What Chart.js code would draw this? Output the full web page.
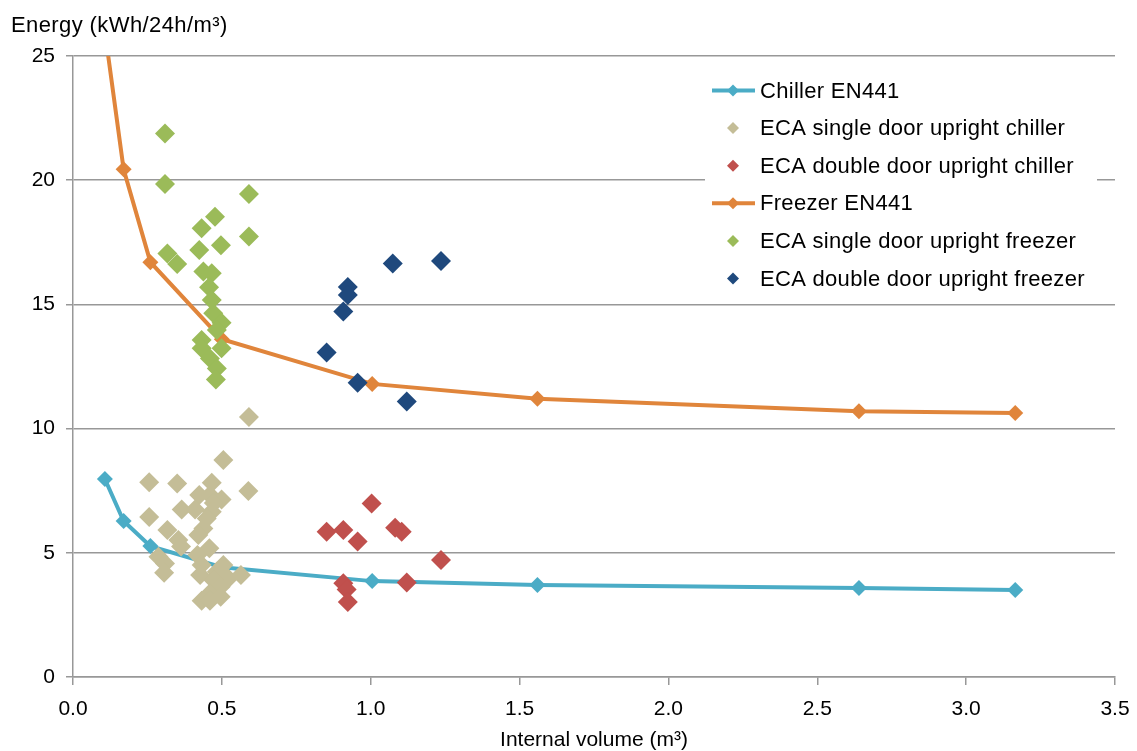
<!DOCTYPE html>
<html>
<head>
<meta charset="utf-8">
<script src="https://cdn.jsdelivr.net/npm/chart.js@4.4.1/dist/chart.umd.min.js"></script>
<style>
  body { margin: 0; background: #fff; }
  #wrap { width: 1137px; height: 751px; }
</style>
</head>
<body>
<div id="wrap"><canvas id="energyChart"></canvas></div>
<script>
// EN441 reference curves
var en441Volume = [0.107, 0.17, 0.26, 0.5, 1.005, 1.56, 2.64, 3.165]
var chillerEN441 = [7.97, 6.28, 5.27, 4.42, 3.86, 3.70, 3.58, 3.50]
var freezerEN441 = [26.0, 20.44, 16.7, 13.6, 11.8, 11.2, 10.7, 10.63]

// ECA single door upright chiller
var singleChillerVol = [0.505, 0.256, 0.350, 0.466, 0.589, 0.424, 0.460, 0.499, 0.473, 0.365,
  0.410, 0.466, 0.256, 0.449, 0.438, 0.317, 0.421, 0.354, 0.363, 0.458, 0.418, 0.287, 0.309,
  0.432, 0.505, 0.483, 0.306, 0.427, 0.564, 0.522, 0.471, 0.496, 0.460, 0.432, 0.460, 0.496, 0.591]
var singleChillerEnergy = [8.74, 7.84, 7.79, 7.82, 7.49, 7.33, 7.33, 7.15, 7.0, 6.74,
  6.74, 6.65, 6.44, 6.38, 5.98, 5.92, 5.72, 5.52, 5.25, 5.18, 4.91, 4.84, 4.57,
  4.51, 4.51, 4.24, 4.20, 4.11, 4.11, 3.97, 3.90, 3.63, 3.37, 3.07, 3.07, 3.23, 10.47]

// ECA double door upright chiller
var doubleChillerVol = [1.003, 0.852, 0.908, 0.956, 1.082, 1.104, 1.236, 0.908, 0.919, 0.923, 1.121]
var doubleChillerEnergy = [6.98, 5.85, 5.92, 5.45, 6.01, 5.85, 4.71, 3.77, 3.52, 3.02, 3.80]

// ECA single door upright freezer
var singleFreezerVol = [0.309, 0.309, 0.591, 0.477, 0.432, 0.591, 0.424, 0.497, 0.317, 0.350,
  0.438, 0.466, 0.457, 0.466, 0.471, 0.499, 0.483, 0.432, 0.432, 0.499, 0.460, 0.483, 0.480]
var singleFreezerEnergy = [21.88, 19.85, 19.44, 18.53, 18.07, 17.73, 17.19, 17.38, 17.05, 16.63,
  16.32, 16.25, 15.69, 15.18, 14.64, 14.26, 13.97, 13.57, 13.23, 13.23, 12.82, 12.42, 11.98]

// ECA double door upright freezer
var doubleFreezerVol = [1.074, 1.236, 0.923, 0.923, 0.908, 0.852, 0.956, 1.121]
var doubleFreezerEnergy = [16.65, 16.75, 15.7, 15.38, 14.71, 13.06, 11.85, 11.09]

var xTicks = [0, 0.5, 1.0, 1.5, 2.0, 2.5, 3.0, 3.5]
var yTicks = [0, 5, 10, 15, 20, 25]

var FONT = "'Liberation Sans', Arial, sans-serif"
var GRID = '#989898'

function toPoints(xs, ys) {
  var pts = []
  for (var i = 0; i < xs.length; i++) pts.push({x: xs[i], y: ys[i]})
  return pts
}

function lineSet(label, color, xs, ys, order) {
  return {
    label: label, data: toPoints(xs, ys), showLine: true, isLine: true,
    borderColor: color, backgroundColor: color, borderWidth: 4,
    pointStyle: 'rectRot', pointRadius: 8, pointBorderWidth: 0,
    tension: 0, order: order
  }
}

function dotSet(label, color, xs, ys, order) {
  return {
    label: label, data: toPoints(xs, ys), showLine: false,
    backgroundColor: color, borderColor: color,
    pointStyle: 'rectRot', pointRadius: 10, pointBorderWidth: 0, order: order
  }
}

// legend drawn inside the plot, plus the horizontal y title
var boxLegend = {
  id: 'boxLegend',
  afterDraw: function(chart) {
    var ctx = chart.ctx
    ctx.save()
    ctx.fillStyle = '#fff'
    ctx.fillRect(705, 66, 392, 230)
    ctx.font = '22px ' + FONT
    ctx.letterSpacing = '0.3px'
    ctx.textBaseline = 'middle'
    var rowY = 90.5
    chart.data.datasets.forEach(function(ds) {
      if (ds.isLine) {
        ctx.strokeStyle = ds.borderColor
        ctx.lineWidth = 4
        ctx.beginPath()
        ctx.moveTo(712, rowY)
        ctx.lineTo(755, rowY)
        ctx.stroke()
      }
      ctx.fillStyle = ds.backgroundColor
      ctx.beginPath()
      ctx.moveTo(733, rowY - 6)
      ctx.lineTo(739, rowY)
      ctx.lineTo(733, rowY + 6)
      ctx.lineTo(727, rowY)
      ctx.closePath()
      ctx.fill()
      ctx.fillStyle = '#000'
      ctx.fillText(ds.label, 760, rowY + 1)
      rowY += 37.6
    })
    ctx.textBaseline = 'alphabetic'
    ctx.font = '22px ' + FONT
    ctx.letterSpacing = '0.4px'
    ctx.fillText('Energy (kWh/24h/m\u00b3)', 11, 32)
    ctx.letterSpacing = '0px'
    ctx.restore()
  }
}

new Chart(document.getElementById('energyChart'), {
  type: 'scatter',
  data: {
    datasets: [
      lineSet('Chiller EN441', '#4bacc6', en441Volume, chillerEN441, 6),
      dotSet('ECA single door upright chiller', '#c4bd97', singleChillerVol, singleChillerEnergy, 5),
      dotSet('ECA double door upright chiller', '#c0504d', doubleChillerVol, doubleChillerEnergy, 4),
      lineSet('Freezer EN441', '#e0853b', en441Volume, freezerEN441, 3),
      dotSet('ECA single door upright freezer', '#9bbb59', singleFreezerVol, singleFreezerEnergy, 2),
      dotSet('ECA double door upright freezer', '#1f497d', doubleFreezerVol, doubleFreezerEnergy, 1)
    ]
  },
  options: {
    responsive: true,
    maintainAspectRatio: false,
    animation: false,
    layout: { padding: { top: 56, right: 22, left: 0, bottom: 0 } },
    plugins: { legend: { display: false }, tooltip: { enabled: false } },
    scales: {
      x: {
        type: 'linear', min: 0, max: 3.5,
        afterBuildTicks: function(scale) { scale.ticks = xTicks.map(function(v) { return {value: v} }) },
        afterFit: function(scale) { scale.height = 74 },
        ticks: {
          color: '#000', font: { family: FONT, size: 21, lineHeight: 1.6 }, padding: 7,
          maxRotation: 0,
          callback: function(v) { return Number(v).toFixed(1) }
        },
        grid: { drawOnChartArea: false, drawTicks: true, tickLength: 8, color: GRID, lineWidth: 1.5 },
        border: { color: GRID, width: 1.5 },
        title: {
          display: true, text: 'Internal volume (m\u00b3)', color: '#000',
          font: { family: FONT, size: 21 }, padding: { top: 2, bottom: -2 }
        }
      },
      y: {
        type: 'linear', min: 0, max: 25,
        afterBuildTicks: function(scale) { scale.ticks = yTicks.map(function(v) { return {value: v} }) },
        afterFit: function(scale) { scale.width = 73 },
        ticks: { color: '#000', font: { family: FONT, size: 21 }, padding: 11 },
        grid: { color: GRID, lineWidth: 1.5, tickLength: 7 },
        border: { color: GRID, width: 1.5 }
      }
    }
  },
  plugins: [boxLegend]
})
</script>
</body>
</html>
